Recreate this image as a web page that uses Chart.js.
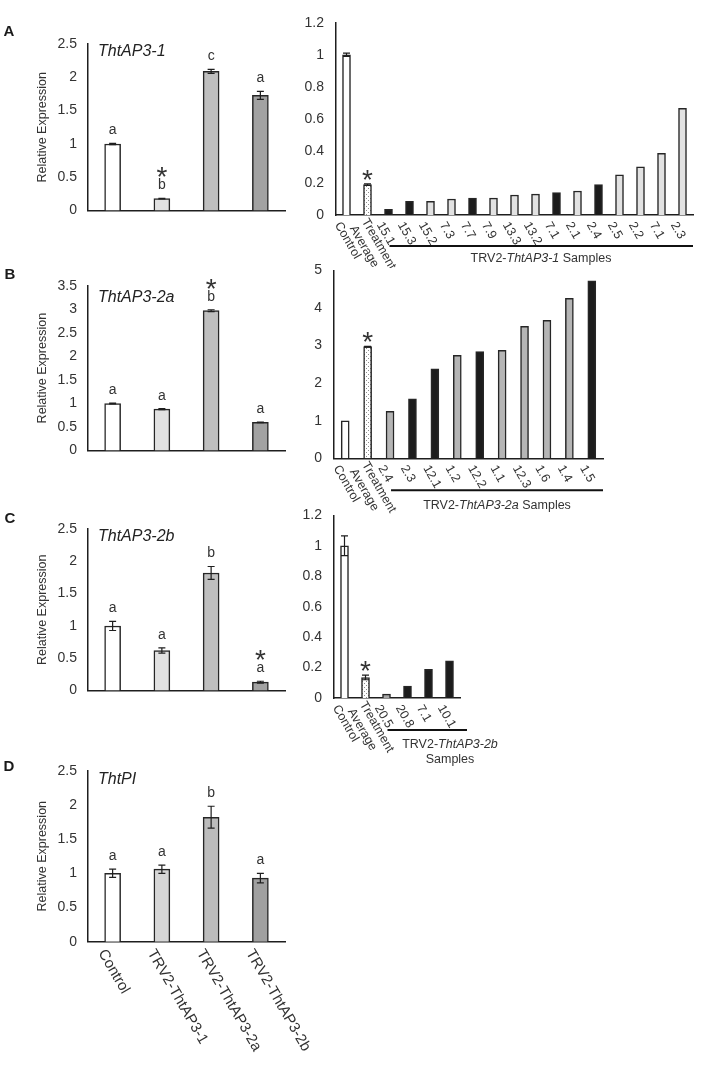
<!DOCTYPE html>
<html><head><meta charset="utf-8">
<script src="https://cdn.jsdelivr.net/npm/chart.js@4.4.1/dist/chart.umd.min.js"></script>
<style>
html,body{margin:0;padding:0;background:#fff;}
#fig{position:relative;width:710px;height:1066px;background:#fff;overflow:hidden;}
#fig canvas{position:absolute;}
</style></head>
<body><div id="fig"></div>
<script>
// ================= DATA =================
const leftCategories = ['Control', 'TRV2-ThtAP3-1', 'TRV2-ThtAP3-2a', 'TRV2-ThtAP3-2b'];

// Panel A – ThtAP3-1
const ap31Values  = [1.00, 0.18, 2.09, 1.73];
const ap31Errors  = [0.01, 0.005, 0.03, 0.06];
const ap31Letters = ['a', 'b', 'c', 'a'];
const ap31Stars   = [0, 1, 0, 0];

const ap31SampleLabels = ['Control', ['Treatment', 'Average'], '15.1', '15.3', '15.2', '7.3', '7.7', '7.9', '13.3', '13.2', '7.1', '2.1', '2.4', '2.5', '2.2', '7.1', '2.3'];
const ap31SampleValues = [1.00, 0.19, 0.035, 0.085, 0.085, 0.10, 0.105, 0.105, 0.125, 0.13, 0.14, 0.15, 0.19, 0.25, 0.30, 0.385, 0.665];
const ap31SampleErrors = [0.01, 0.005, 0, 0, 0, 0, 0, 0, 0, 0, 0, 0, 0, 0, 0, 0, 0];
const ap31SampleClass  = ['c', 't', 'k', 'k', 'l', 'l', 'k', 'l', 'l', 'l', 'k', 'l', 'k', 'l', 'l', 'l', 'l'];

// Panel B – ThtAP3-2a
const ap32aValues  = [1.00, 0.88, 2.97, 0.60];
const ap32aErrors  = [0.01, 0.01, 0.02, 0.005];
const ap32aLetters = ['a', 'a', 'b', 'a'];
const ap32aStars   = [0, 0, 1, 0];

const ap32aSampleLabels = ['Control', ['Treatment', 'Average'], '2.4', '2.3', '12.1', '1.2', '12.2', '1.1', '12.3', '1.6', '1.4', '1.5'];
const ap32aSampleValues = [1.00, 2.97, 1.25, 1.58, 2.38, 2.74, 2.84, 2.87, 3.51, 3.67, 4.26, 4.72];
const ap32aSampleErrors = [0, 0.012, 0, 0, 0, 0, 0, 0, 0, 0, 0, 0];
const ap32aSampleClass  = ['c', 't', 'g', 'k', 'k', 'g', 'k', 'g', 'g', 'g', 'g', 'k'];

// Panel C – ThtAP3-2b
const ap32bValues  = [1.00, 0.62, 1.82, 0.13];
const ap32bErrors  = [0.07, 0.04, 0.10, 0.015];
const ap32bLetters = ['a', 'a', 'b', 'a'];
const ap32bStars   = [0, 0, 0, 1];

const ap32bSampleLabels = ['Control', ['Treatment', 'Average'], '20.5', '20.8', '7.1', '10.1'];
const ap32bSampleValues = [1.00, 0.135, 0.025, 0.078, 0.188, 0.245];
const ap32bSampleErrors = [0.065, 0.015, 0, 0, 0, 0];
const ap32bSampleClass  = ['c', 't', 'g', 'k', 'k', 'k'];

// Panel D – ThtPI
const piValues  = [1.00, 1.06, 1.82, 0.93];
const piErrors  = [0.06, 0.06, 0.16, 0.07];
const piLetters = ['a', 'a', 'b', 'a'];

// ================= STYLE =================
const FONT = "'Liberation Sans', Arial, Helvetica, sans-serif";
const TXT = '#333';
const EDGE = '#262626';
const leftColors = ['#ffffff', '#e1e1e1', '#bfbfbf', '#a2a2a2'];

function dotPattern() {
  const c = document.createElement('canvas');
  c.width = 4; c.height = 4;
  const g = c.getContext('2d');
  g.fillStyle = '#ffffff'; g.fillRect(0, 0, 4, 4);
  g.fillStyle = '#8c8c8c';
  g.fillRect(0, 0, 1, 1); g.fillRect(2, 2, 1, 1);
  return document.createElement('canvas').getContext('2d').createPattern(c, 'repeat');
}
const PAT = dotPattern();
function classColors(cls, grey) {
  return cls.map(k => k === 'c' ? '#ffffff' : k === 't' ? PAT : k === 'k' ? '#1c1c1c' : k === 'l' ? '#e2e2e2' : grey);
}

// ================= PLUGIN =================
const figPlugin = {
  id: 'fig',
  afterDatasetsDraw(chart) {
    const o = chart.options.plugins.fig; if (!o) return;
    const ctx = chart.ctx, y = chart.scales.y;
    const meta = chart.getDatasetMeta(0);
    const vals = chart.data.datasets[0].data;
    ctx.save();
    if (o.err) {
      ctx.strokeStyle = '#1e1e1e'; ctx.lineWidth = 1.2;
      o.err.forEach((e, i) => {
        if (!e) return;
        const cx = meta.data[i].x;
        const y1 = y.getPixelForValue(vals[i] + e), y2 = y.getPixelForValue(vals[i] - e);
        ctx.beginPath();
        ctx.moveTo(cx, y1); ctx.lineTo(cx, y2);
        ctx.moveTo(cx - 3.5, y1); ctx.lineTo(cx + 3.5, y1);
        ctx.moveTo(cx - 3.5, y2); ctx.lineTo(cx + 3.5, y2);
        ctx.stroke();
      });
    }
    if (o.letters || o.stars) {
      ctx.fillStyle = TXT; ctx.textAlign = 'center'; ctx.textBaseline = 'alphabetic';
      vals.forEach((v, i) => {
        const e = (o.err && o.err[i]) || 0;
        const top = y.getPixelForValue(v + e);
        const cx = meta.data[i].x;
        const L = o.letters ? o.letters[i] : '';
        const lb = top - 9;
        if (L) { ctx.font = '14px ' + FONT; ctx.fillText(L, cx, lb); }
        if (o.stars && o.stars[i]) { ctx.font = '28px ' + FONT; ctx.fillText('*', cx, L ? lb - 3 : top + 5); }
      });
    }
    ctx.restore();
  },
  afterDraw(chart) {
    const o = chart.options.plugins.fig; if (!o) return;
    const ctx = chart.ctx, x = chart.scales.x;
    const bx = o.box.x, by = o.box.y;
    const ay = chart.chartArea.bottom;
    ctx.save();
    if (o.panel) {
      ctx.font = 'bold 15px ' + FONT; ctx.fillStyle = '#1a1a1a';
      ctx.textAlign = 'center'; ctx.textBaseline = 'middle';
      ctx.fillText(o.panel.t, o.panel.x - bx, o.panel.y - by);
    }
    if (o.title) {
      ctx.font = 'italic 16px ' + FONT; ctx.fillStyle = '#222';
      ctx.textAlign = 'left'; ctx.textBaseline = 'middle';
      ctx.fillText(o.title.t, o.title.x - bx, o.title.y - by);
    }
    if (o.xlabels) {
      const xl = o.xlabels;
      ctx.font = xl.size + 'px ' + FONT; ctx.fillStyle = TXT;
      ctx.textAlign = 'left'; ctx.textBaseline = 'middle';
      chart.data.labels.forEach((lbl, i) => {
        const lines = Array.isArray(lbl) ? lbl : [lbl];
        const cx = x.getPixelForValue(i);
        ctx.save();
        ctx.translate(cx + xl.dx, ay + xl.dy);
        ctx.rotate(xl.angle * Math.PI / 180);
        lines.forEach((s, j) => ctx.fillText(s, 0, (j - (lines.length - 1) / 2) * xl.lh));
        ctx.restore();
      });
    }
    if (o.underline) {
      const u = o.underline;
      ctx.strokeStyle = '#111'; ctx.lineWidth = 2;
      ctx.beginPath();
      ctx.moveTo(x.getPixelForValue(u.from) + 1, ay + u.dy);
      ctx.lineTo(u.right !== undefined ? u.right - bx : chart.chartArea.right, ay + u.dy);
      ctx.stroke();
    }
    if (o.caption) {
      const c = o.caption;
      ctx.fillStyle = TXT; ctx.textBaseline = 'middle'; ctx.textAlign = 'left';
      c.lines.forEach((parts, j) => {
        let w = 0;
        parts.forEach(p => { ctx.font = (p[1] ? 'italic ' : '') + c.size + 'px ' + FONT; w += ctx.measureText(p[0]).width; });
        let px = c.cx - bx - w / 2;
        const py = c.y - by + j * c.lh;
        parts.forEach(p => {
          ctx.font = (p[1] ? 'italic ' : '') + c.size + 'px ' + FONT;
          ctx.fillText(p[0], px, py);
          px += ctx.measureText(p[0]).width;
        });
      });
    }
    ctx.restore();
  }
};

// ================= FACTORY =================
const fig = document.getElementById('fig');
function makeChart(cfg) {
  const box = cfg.box, area = cfg.area;
  const cv = document.createElement('canvas');
  cv.width = box.w; cv.height = box.h;
  cv.style.left = box.x + 'px'; cv.style.top = box.y + 'px';
  fig.appendChild(cv);
  cfg.fig.box = box;
  return new Chart(cv, {
    type: 'bar',
    data: {
      labels: cfg.labels,
      datasets: [{
        data: cfg.values,
        backgroundColor: cfg.colors,
        borderColor: EDGE,
        borderWidth: 1.5,
        barThickness: cfg.barW
      }]
    },
    options: {
      responsive: false, animation: false, devicePixelRatio: 1,
      layout: { padding: { left: 0, top: area.t - box.y, right: box.x + box.w - area.r, bottom: box.y + box.h - area.b } },
      plugins: { legend: { display: false }, tooltip: { enabled: false }, fig: cfg.fig },
      scales: {
        x: {
          ticks: { display: false },
          grid: { display: false, drawTicks: false },
          border: { display: true, color: '#1e1e1e', width: 1.5 },
          afterFit(s) { s.height = 0; }
        },
        y: {
          min: 0, max: cfg.max,
          ticks: {
            stepSize: cfg.step, color: TXT, padding: cfg.tickPad,
            font: { family: FONT, size: 14 },
            callback: v => String(+Number(v).toFixed(2))
          },
          grid: { display: false, drawTicks: false },
          border: { display: true, color: '#1e1e1e', width: 1.5 },
          title: cfg.ytitle ? {
            display: true, text: 'Relative Expression', color: TXT,
            font: { family: FONT, size: 12.5 }, padding: { top: 35, bottom: 0 }
          } : { display: false },
          afterFit(s) { s.width = area.l - box.x; }
        }
      }
    },
    plugins: [figPlugin]
  });
}

// ================= CHARTS =================
// Panel A left
makeChart({
  box: { x: 0, y: 0, w: 300, h: 230 }, area: { l: 88, t: 44, r: 285, b: 213 },
  labels: leftCategories, values: ap31Values, colors: leftColors, barW: 16,
  max: 2.5, step: 0.5, tickPad: 11, ytitle: true,
  fig: { err: ap31Errors, letters: ap31Letters, stars: ap31Stars,
         panel: { t: 'A', x: 9, y: 32 }, title: { t: 'ThtAP3-1', x: 98, y: 52 } }
});
// Panel A right
makeChart({
  box: { x: 300, y: 0, w: 410, h: 268 }, area: { l: 336, t: 22.7, r: 693, b: 215 },
  labels: ap31SampleLabels, values: ap31SampleValues, colors: classColors(ap31SampleClass, '#b5b5b5'), barW: 8,
  max: 1.2, step: 0.2, tickPad: 12,
  fig: { err: ap31SampleErrors, stars: [0, 1],
         xlabels: { size: 12.5, dx: -9, dy: 8, lh: 14, angle: 60 },
         underline: { from: 2, dy: 31 },
         caption: { size: 12.5, cx: 541, y: 259, lh: 15, lines: [[['TRV2-', false], ['ThtAP3-1', true], [' Samples', false]]] } }
});
// Panel B left
makeChart({
  box: { x: 0, y: 230, w: 300, h: 240 }, area: { l: 88, t: 285.7, r: 285, b: 456 },
  labels: leftCategories, values: ap32aValues, colors: leftColors, barW: 16,
  max: 3.5, step: 0.5, tickPad: 11, ytitle: true,
  fig: { err: ap32aErrors, letters: ap32aLetters, stars: ap32aStars,
         panel: { t: 'B', x: 10, y: 275 }, title: { t: 'ThtAP3-2a', x: 98, y: 298 } }
});
// Panel B right
makeChart({
  box: { x: 300, y: 250, w: 410, h: 270 }, area: { l: 334, t: 268.3, r: 603, b: 458.3 },
  labels: ap32aSampleLabels, values: ap32aSampleValues, colors: classColors(ap32aSampleClass, '#b5b5b5'), barW: 8,
  max: 5, step: 1, tickPad: 12,
  fig: { err: ap32aSampleErrors, stars: [0, 1],
         xlabels: { size: 12.5, dx: -9, dy: 8, lh: 14, angle: 60 },
         underline: { from: 2, dy: 32 },
         caption: { size: 12.5, cx: 497, y: 505.5, lh: 15, lines: [[['TRV2-', false], ['ThtAP3-2a', true], [' Samples', false]]] } }
});
// Panel C left
makeChart({
  box: { x: 0, y: 470, w: 300, h: 240 }, area: { l: 88, t: 529, r: 285, b: 696.5 },
  labels: leftCategories, values: ap32bValues, colors: leftColors, barW: 16,
  max: 2.5, step: 0.5, tickPad: 11, ytitle: true,
  fig: { err: ap32bErrors, letters: ap32bLetters, stars: ap32bStars,
         panel: { t: 'C', x: 10, y: 518.5 }, title: { t: 'ThtAP3-2b', x: 98, y: 537 } }
});
// Panel C right
makeChart({
  box: { x: 300, y: 495, w: 220, h: 280 }, area: { l: 334, t: 508.3, r: 460, b: 698 },
  labels: ap32bSampleLabels, values: ap32bSampleValues, colors: classColors(ap32bSampleClass, '#a6a6a6'), barW: 8,
  max: 1.2, step: 0.2, tickPad: 12,
  fig: { err: ap32bSampleErrors, stars: [0, 1],
         xlabels: { size: 12.5, dx: -9, dy: 8, lh: 14, angle: 60 },
         underline: { from: 2, dy: 32, right: 467 },
         caption: { size: 12.5, cx: 450, y: 745, lh: 15, lines: [[['TRV2-', false], ['ThtAP3-2b', true]], [['Samples', false]]] } }
});
// Panel D
makeChart({
  box: { x: 0, y: 710, w: 420, h: 356 }, area: { l: 88, t: 770.7, r: 285, b: 941.7 },
  labels: leftCategories, values: piValues, colors: ['#ffffff', '#d6d6d6', '#bcbcbc', '#a0a0a0'], barW: 16,
  max: 2.5, step: 0.5, tickPad: 11, ytitle: true,
  fig: { err: piErrors, letters: piLetters,
         panel: { t: 'D', x: 9, y: 767 }, title: { t: 'ThtPI', x: 98, y: 780 },
         xlabels: { size: 15, dx: -11, dy: 9, lh: 17, angle: 60 } }
});
</script>
</body></html>
